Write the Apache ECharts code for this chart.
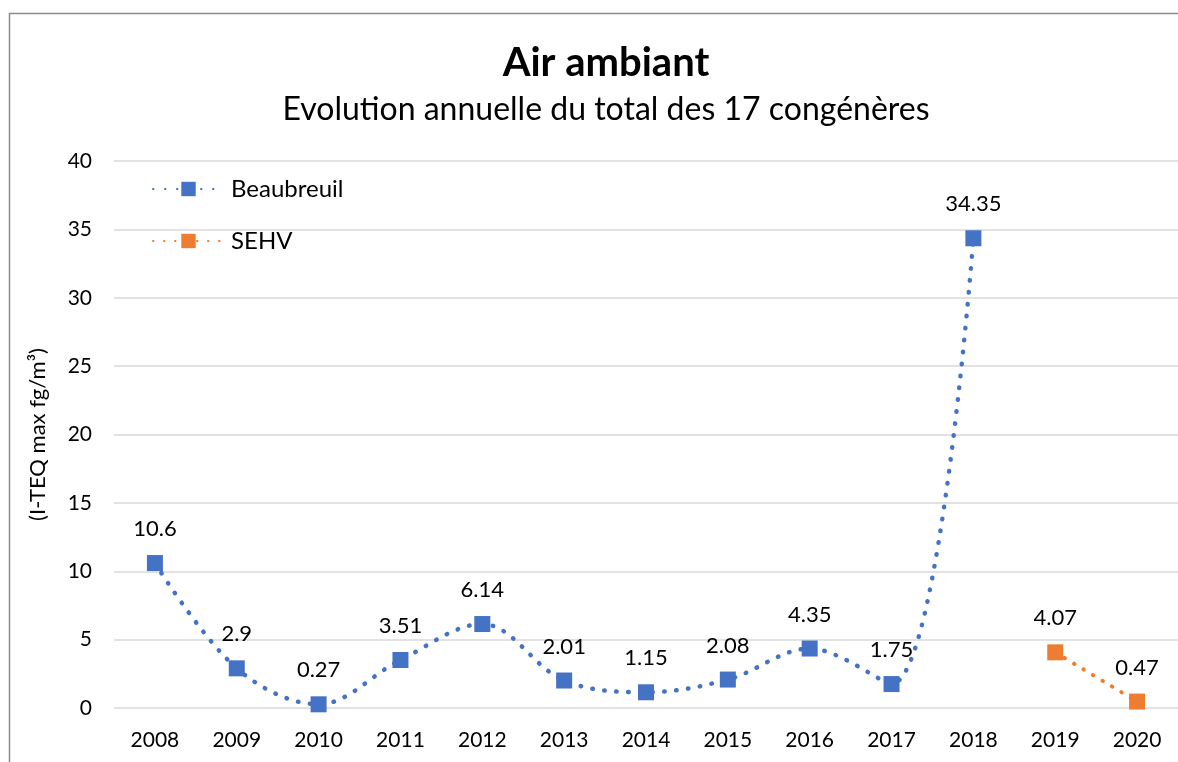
<!DOCTYPE html>
<html>
<head>
<meta charset="utf-8">
<script src="https://cdn.jsdelivr.net/npm/echarts@6/dist/echarts.min.js"></script>
<style>
  html, body { margin: 0; padding: 0; background: #fff; }
  #chart { width: 1178px; height: 762px; }
</style>
</head>
<body>
<div id="chart"></div>
<script>
const years = ['2008', '2009', '2010', '2011', '2012', '2013', '2014', '2015', '2016', '2017', '2018', '2019', '2020'];
const beaubreuil = [10.6, 2.9, 0.27, 3.51, 6.14, 2.01, 1.15, 2.08, 4.35, 1.75, 34.35, null, null];
const sehv = [null, null, null, null, null, null, null, null, null, null, null, 4.07, 0.47];

const chart = echarts.init(document.getElementById('chart'));

const font = 'Lato, "Open Sans", sans-serif';

const labelStyle = {
  show: true,
  position: 'top',
  distance: 15,
  fontSize: 22,
  color: '#000',
  fontFamily: font
};

const option = {
  backgroundColor: '#fff',
  textStyle: { fontFamily: font },
  title: {
    text: 'Air ambiant',
    subtext: 'Evolution annuelle du total des 17 congénères',
    left: 601,
    textAlign: 'center',
    top: 38,
    itemGap: 11,
    textStyle: { fontSize: 40, fontWeight: 'bold', color: '#000', fontFamily: font },
    subtextStyle: { fontSize: 32, color: '#000', fontFamily: font }
  },
  graphic: [{
    type: 'rect',
    shape: { x: 9.5, y: 13.5, width: 1200, height: 800 },
    style: { fill: 'none', stroke: '#8c8c8c', lineWidth: 1.5 },
    silent: true
  }],
  legend: {
    orient: 'vertical',
    left: 147,
    top: 172,
    itemWidth: 71,
    itemHeight: 18,
    itemGap: 28,
    textStyle: { fontSize: 24, color: '#000', fontFamily: font, padding: [0, 0, 0, 2] },
    data: ['Beaubreuil', 'SEHV']
  },
  grid: {
    left: 114,
    top: 161,
    width: 1070,
    bottom: 54,
    containLabel: false
  },
  xAxis: {
    type: 'category',
    data: years,
    boundaryGap: true,
    axisLine: { show: false },
    axisTick: { show: false },
    axisLabel: { fontSize: 21, color: '#000', margin: 22, fontFamily: font }
  },
  yAxis: {
    type: 'value',
    min: 0,
    max: 40,
    interval: 5,
    name: '(I-TEQ max fg/m³)',
    nameLocation: 'middle',
    nameRotate: 90,
    nameGap: 65,
    nameTextStyle: { fontSize: 22, color: '#000', fontFamily: font },
    axisLine: { show: false },
    axisTick: { show: false },
    axisLabel: { fontSize: 21, color: '#000', margin: 22, fontFamily: font },
    splitLine: { lineStyle: { color: '#d9d9d9', width: 1.5 } }
  },
  series: [
    {
      name: 'Beaubreuil',
      type: 'line',
      data: beaubreuil,
      smooth: 0.35,
      connectNulls: false,
      symbol: 'rect',
      symbolSize: 16,
      itemStyle: { color: '#4472c4' },
      lineStyle: { color: '#4472c4', width: 4.5, type: [0.5, 11.5], cap: 'round' },
      label: labelStyle
    },
    {
      name: 'SEHV',
      type: 'line',
      data: sehv,
      smooth: 0.35,
      symbol: 'rect',
      symbolSize: 16,
      itemStyle: { color: '#ed7d31' },
      lineStyle: { color: '#ed7d31', width: 4, type: [0.5, 10.5], cap: 'round' },
      label: labelStyle
    }
  ]
};

chart.setOption(option);
</script>
</body>
</html>
